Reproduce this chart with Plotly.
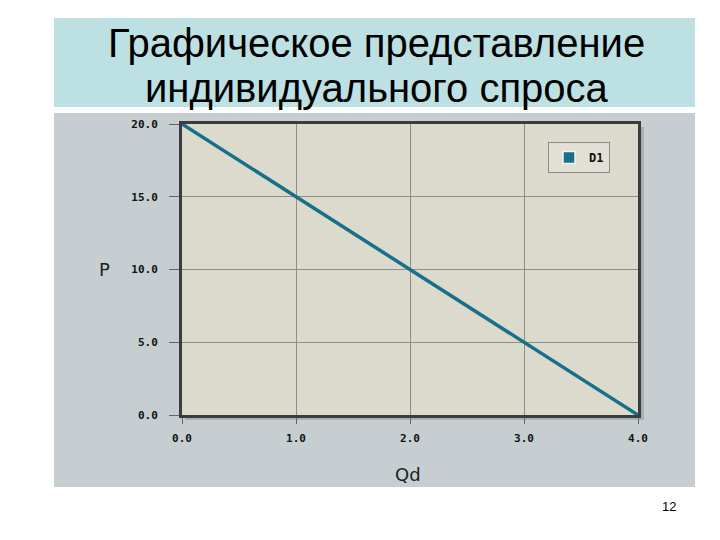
import plotly.graph_objects as go

quantity = [0.0, 1.0, 2.0, 3.0, 4.0]
price = [20.0, 15.0, 10.0, 5.0, 0.0]
x_ticks = [0.0, 1.0, 2.0, 3.0, 4.0]
y_ticks = [0.0, 5.0, 10.0, 15.0, 20.0]
series_name = "D1"
x_title = "Qd"
y_title = "P"
title_lines = ["Графическое представление", "индивидуального спроса"]
page_number = "12"

# the page body has an 8px margin; positions below are in window pixels
OFF = 8
W, H = 720 - OFF, 540 - OFF
def px(x):
    return (x - OFF) / W
def py(y):
    return 1 - (y - OFF) / H

LINE_COLOR = "#17708a"

fig = go.Figure()
fig.add_trace(go.Scatter(
    x=quantity, y=price, mode="lines", name=series_name, showlegend=False,
    line=dict(color=LINE_COLOR, width=3.5),
))
# legend swatch (filled box, as in the original chart legend)
fig.add_trace(go.Bar(
    x=[None], y=[None], name=series_name, showlegend=True,
    marker=dict(color=LINE_COLOR, line=dict(color="#f4f4f0", width=1.5)),
))

tickfont = dict(family="DejaVu Sans Mono", size=11, color="#111111", weight="bold")
fig.update_layout(
    width=W, height=H,
    margin=dict(l=0, r=0, t=0, b=0),
    paper_bgcolor="white",
    plot_bgcolor="rgba(0,0,0,0)",
    showlegend=True,
    legend=dict(
        x=px(548), y=py(142), xanchor="left", yanchor="top",
        bgcolor="#e2dfd6", bordercolor="#8a8a8a", borderwidth=1,
        font=dict(family="DejaVu Sans Mono", size=12, color="#111", weight="bold"),
        itemwidth=30, tracegroupgap=0,
    ),
    xaxis=dict(
        domain=[px(182), px(638)], range=[0, 4], tickvals=x_ticks,
        ticktext=[f"{v:.1f}" for v in x_ticks], tickfont=tickfont,
        showgrid=True, gridcolor="#8f8d86", gridwidth=1,
        ticks="outside", ticklen=6, tickcolor="#666", zeroline=False,
        showline=True, linecolor="#3c3c3c", linewidth=3, mirror=True,
        automargin=False, ticklabelstandoff=5,
    ),
    yaxis=dict(
        domain=[py(415), py(124)], range=[0, 20], tickvals=y_ticks,
        ticktext=[f"{v:.1f}" for v in y_ticks], tickfont=tickfont,
        showgrid=True, gridcolor="#8f8d86", gridwidth=1,
        ticks="outside", ticklen=10, tickcolor="#666", zeroline=False,
        showline=True, linecolor="#3c3c3c", linewidth=3, mirror=True,
        automargin=False, ticklabelstandoff=9,
    ),
    shapes=[
        dict(type="rect", xref="paper", yref="paper", layer="below",
             x0=px(54), x1=px(695), y0=py(107), y1=py(18),
             fillcolor="#bde0e3", line=dict(width=0)),
        dict(type="rect", xref="paper", yref="paper", layer="below",
             x0=px(54), x1=px(695), y0=py(487), y1=py(113),
             fillcolor="#c6ced2", line=dict(width=0)),
        dict(type="rect", xref="paper", yref="paper", layer="below",
             x0=px(185), x1=px(644), y0=py(420), y1=py(127),
             fillcolor="#a9b0b4", line=dict(width=0)),
        dict(type="rect", xref="paper", yref="paper", layer="below",
             x0=px(182), x1=px(638), y0=py(415), y1=py(124),
             fillcolor="#dcd9cd", line=dict(width=0)),
    ],
    annotations=[
        dict(text=title_lines[0], xref="paper", yref="paper", x=px(376), y=py(43),
             xanchor="center", yanchor="middle",
             showarrow=False, font=dict(family="Liberation Sans", size=40, color="#000")),
        dict(text=title_lines[1], xref="paper", yref="paper", x=px(377), y=py(88),
             xanchor="center", yanchor="middle",
             showarrow=False, font=dict(family="Liberation Sans", size=40, color="#000")),
        dict(text=y_title, xref="paper", yref="paper", x=px(104), y=py(270),
             xanchor="center", yanchor="middle",
             showarrow=False, font=dict(family="DejaVu Sans", size=18, color="#222")),
        dict(text=x_title, xref="paper", yref="paper", x=px(408), y=py(474),
             xanchor="center", yanchor="middle",
             showarrow=False, font=dict(family="DejaVu Sans", size=18, color="#222")),
        dict(text=page_number, xref="paper", yref="paper", x=px(669), y=py(506),
             xanchor="center", yanchor="middle",
             showarrow=False, font=dict(family="Liberation Sans", size=13, color="#000")),
    ],
)

fig.write_html("out.html")
